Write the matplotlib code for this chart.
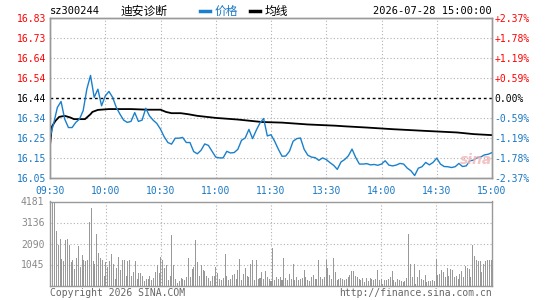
import numpy as np
import matplotlib
matplotlib.use('Agg')
import matplotlib.pyplot as plt

# data
code = 'sz300244'
name = '迪安诊断'
stamp = '2026-07-28 15:00:00'
prev_close = 16.44

time_labels = ['09:30', '10:00', '10:30', '11:00', '11:30', '13:30', '14:00', '14:30', '15:00']
price_labels = ['16.05', '16.15', '16.25', '16.34', '16.44', '16.54', '16.64', '16.73', '16.83']
pct_labels = ['-2.37%', '-1.78%', '-1.19%', '-0.59%', '0.00%', '+0.59%', '+1.19%', '+1.78%', '+2.37%']
vol_labels = ['1045', '2090', '3136', '4181']

# price, one value every 2 trading minutes (0..240)
price = [
    16.25, 16.316, 16.394, 16.423, 16.337, 16.296, 16.296, 16.321, 16.337, 16.378,
    16.483, 16.55, 16.443, 16.483, 16.402, 16.45, 16.472, 16.443, 16.394, 16.361,
    16.332, 16.321, 16.326, 16.369, 16.326, 16.332, 16.39, 16.353, 16.332, 16.316,
    16.288, 16.251, 16.223, 16.215, 16.244, 16.244, 16.248, 16.223, 16.223, 16.179,
    16.168, 16.185, 16.216, 16.209, 16.18, 16.152, 16.148, 16.148, 16.18, 16.172,
    16.174, 16.19, 16.234, 16.245, 16.287, 16.242, 16.283, 16.318, 16.34, 16.255,
    16.261, 16.229, 16.19, 16.156, 16.157, 16.18, 16.229, 16.242, 16.245, 16.19,
    16.161, 16.152, 16.149, 16.136, 16.148, 16.14, 16.125, 16.112, 16.092, 16.128,
    16.14, 16.158, 16.191, 16.15, 16.118, 16.118, 16.12, 16.114, 16.116, 16.112,
    16.118, 16.134, 16.113, 16.109, 16.113, 16.121, 16.118, 16.098, 16.085, 16.062,
    16.098, 16.105, 16.126, 16.114, 16.126, 16.147, 16.118, 16.106, 16.105, 16.101,
    16.105, 16.121, 16.106, 16.109, 16.134, 16.137, 16.15, 16.153, 16.163, 16.166,
    16.174,
]

avg_t = [0, 1, 3, 5, 8, 11, 13, 19, 20, 22, 23, 26, 32, 44, 53, 60, 63, 66, 71, 75,
         80, 90, 102, 115, 126, 140, 155, 160, 172, 186, 203, 221, 230, 240]
avg_p = [16.21, 16.30, 16.329, 16.348, 16.353, 16.345, 16.337, 16.337, 16.345, 16.361,
         16.372, 16.382, 16.386, 16.386, 16.383, 16.383, 16.372, 16.366, 16.366, 16.361,
         16.353, 16.343, 16.335, 16.323, 16.32, 16.311, 16.305, 16.302, 16.296, 16.288,
         16.28, 16.272, 16.264, 16.259]

# volume per minute (0..240)
volume = [
    1587, 4181, 4150, 2705, 2037, 2321, 1319, 1202, 2254, 2321,
    2037, 1152, 1286, 818, 1369, 1987, 918, 1536, 1286, 1202,
    1286, 3156, 3874, 1202, 1085, 2588, 1620, 1369, 1286, 484,
    1152, 918, 1202, 1587, 1085, 317, 868, 1420, 751, 1252,
    1252, 451, 1202, 1252, 484, 651, 1202, 317, 618, 618,
    484, 200, 317, 317, 484, 284, 367, 651, 1035, 618,
    1420, 1252, 868, 1035, 284, 451, 2538, 1035, 317, 117,
    200, 367, 317, 284, 417, 1369, 417, 818, 918, 2288,
    1152, 484, 1035, 751, 701, 484, 367, 200, 451, 451,
    918, 618, 317, 284, 367, 1587, 484, 284, 317, 534,
    585, 317, 751, 1319, 284, 585, 868, 451, 417, 1085,
    1286, 284, 1286, 317, 367, 651, 317, 701, 417, 317,
    200, 1870, 284, 417, 317, 417, 250, 1369, 367, 284,
    585, 317, 1085, 284, 417, 250, 317, 367, 751, 417,
    284, 200, 417, 534, 317, 317, 1252, 417, 317, 417,
    1252, 868, 534, 317, 1369, 651, 284, 317, 367, 317,
    250, 317, 417, 534, 701, 701, 484, 417, 317, 250,
    367, 150, 367, 200, 367, 317, 284, 317, 751, 250,
    317, 84, 284, 250, 317, 417, 701, 250, 150, 317,
    250, 200, 150, 200, 367, 2588, 1085, 417, 1085, 84,
    417, 751, 317, 250, 534, 150, 200, 200, 250, 200,
    1319, 534, 585, 785, 651, 417, 868, 484, 818, 751,
    417, 484, 317, 585, 701, 417, 952, 868, 818, 417,
    2037, 1453, 1286, 1202, 1202, 651, 1085, 1202, 1252, 1252,
    1286,
]

W, H = 545, 300
mono = 'DejaVu Sans Mono'
cjk = ['Noto Sans CJK SC', 'DejaVu Sans']
red = '#ff0000'
blue = '#1a78c4'
line_blue = '#1a80cc'
gray = '#999999'
grid_kw = dict(color='#b0b0b0', linestyle=(0, (1, 2)), linewidth=0.8)

fig = plt.figure(figsize=(W / 100, H / 100), dpi=100)
fig.patch.set_facecolor('white')

ax1 = fig.add_axes([50 / W, 1 - 178 / H, 442 / W, 160 / H])
ax2 = fig.add_axes([50 / W, 1 - 285.5 / H, 442 / W, 84 / H])

lo, hi = float(price_labels[0]), float(price_labels[-1])
yticks = np.linspace(lo, hi, len(price_labels))
xticks = np.arange(0, 241, 30)

# price panel
ax1.set_xlim(0, 240)
ax1.set_ylim(lo, hi)
for y in yticks[1:-1]:
    if abs(y - prev_close) > 1e-3:
        ax1.axhline(y, **grid_kw)
for x in xticks[1:-1]:
    ax1.axvline(x, **grid_kw)
ax1.axhline(prev_close, color='black', linestyle=(0, (2, 2)), linewidth=1.0)

ax1.plot(avg_t, avg_p, color='black', linewidth=1.3, zorder=3)
ax1.plot(np.arange(0, 241, 2), price, color=line_blue, linewidth=1.0, zorder=4)

ax1.set_yticks(yticks)
ax1.set_yticklabels(price_labels, family=mono, fontsize=7)
ax1.set_xticks(xticks)
ax1.set_xticklabels(time_labels, family=mono, fontsize=7, color=blue)
ax1.tick_params(length=0, pad=3)
ax1.tick_params(axis='x', pad=6)
for lab, y in zip(ax1.get_yticklabels(), yticks):
    lab.set_color(red if y > prev_close + 1e-3 else ('black' if abs(y - prev_close) < 1e-3 else blue))

axr = ax1.twinx()
axr.set_ylim(lo, hi)
axr.set_yticks(yticks)
axr.set_yticklabels(pct_labels, family=mono, fontsize=7)
axr.tick_params(length=0, pad=2)
for lab, y in zip(axr.get_yticklabels(), yticks):
    lab.set_color(red if y > prev_close + 1e-3 else ('black' if abs(y - prev_close) < 1e-3 else blue))

for a in (ax1, axr, ax2):
    for s in a.spines.values():
        s.set_color(gray)
        s.set_linewidth(1.0)

# volume panel
vmax = float(vol_labels[-1])
ax2.set_xlim(-0.5, 240.5)
ax2.set_ylim(0, vmax)
vticks = np.linspace(0, vmax, 5)[1:]
for y in vticks[:-1]:
    ax2.axhline(y, **grid_kw)
for x in xticks[1:-1]:
    ax2.axvline(x, **grid_kw)
ax2.bar(np.arange(len(volume)), volume, width=0.55, color=gray, zorder=3)
ax2.set_yticks(vticks)
ax2.set_yticklabels(vol_labels, family=mono, fontsize=7, color='#888888')
ax2.set_xticks([])
ax2.tick_params(length=0, pad=4)

# header
def ft(x, y, s, **kw):
    fig.text(x / W, 1 - y / H, s, va='center', **kw)

ft(50, 11, code, family=mono, fontsize=7.5, color='black')
ft(121, 11, name, family=cjk, fontsize=8.5, color='black')
fig.add_artist(plt.Line2D([200 / W, 210 / W], [1 - 11 / H] * 2, color=line_blue, linewidth=2.5))
ft(215, 11, '价格', family=cjk, fontsize=8.5, color=blue)
fig.add_artist(plt.Line2D([250 / W, 260 / W], [1 - 11 / H] * 2, color='black', linewidth=2.5))
ft(265, 11, '均线', family=cjk, fontsize=8.5, color='black')
ft(492, 11, stamp, family=mono, fontsize=7.5, color='black', ha='right')

# footer
ft(50, 293, 'Copyright 2026 SINA.COM', family=mono, fontsize=7, color='#666666')
ft(492, 293, 'http://finance.sina.com.cn', family=mono, fontsize=7, color='#666666', ha='right')

# faint logo
ft(460, 160, 'sina', family='DejaVu Sans', fontsize=10, color='#f2b4b4',
   style='italic', weight='bold', alpha=0.8)

plt.savefig('out.png', dpi=100)
